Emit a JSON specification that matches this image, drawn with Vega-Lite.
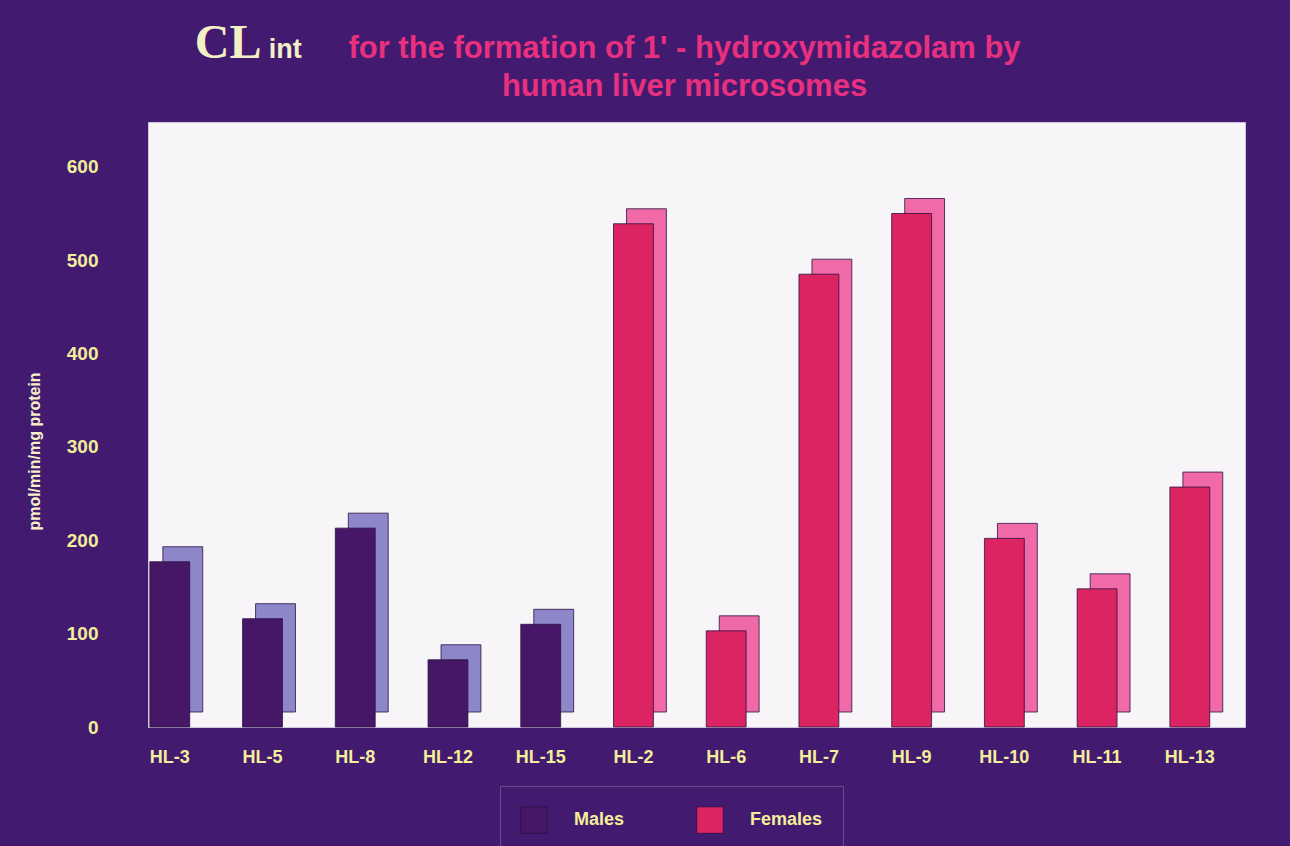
{
  "$schema": "https://vega.github.io/schema/vega-lite/v6.json",
  "width": 1097,
  "height": 605,
  "autosize": {"type": "none"},
  "padding": {"left": 148, "top": 122, "right": 45, "bottom": 119},
  "background": "#421b70",
  "title": {
    "text": ["for the formation of 1' - hydroxymidazolam by", "human liver microsomes"],
    "color": "#e8307f",
    "font": "Liberation Sans",
    "fontWeight": "bold",
    "fontSize": 31,
    "lineHeight": 38,
    "anchor": "middle",
    "dx": -12,
    "offset": -83
  },
  "config": {
    "view": {"fill": "#f7f5f8", "stroke": "#cfc4da", "strokeWidth": 1},
    "legend": {
      "orient": "none",
      "legendX": 352,
      "legendY": 664,
      "direction": "horizontal",
      "symbolType": "square",
      "symbolSize": 700,
      "symbolStrokeWidth": 0.8,
      "symbolStrokeColor": "#2b1242",
      "symbolOpacity": 1,
      "labelColor": "#f3ee9a",
      "labelFont": "Liberation Sans",
      "labelFontWeight": "bold",
      "labelFontSize": 18,
      "labelOffset": 26,
      "columnPadding": 70,
      "padding": 20,
      "strokeColor": "#6b4a8c"
    }
  },
  "layer": [
    {
      "data": {
        "values": [
          {"sample": "HL-3", "sex": "Males", "value": 177},
          {"sample": "HL-5", "sex": "Males", "value": 116},
          {"sample": "HL-8", "sex": "Males", "value": 213},
          {"sample": "HL-12", "sex": "Males", "value": 72},
          {"sample": "HL-15", "sex": "Males", "value": 110},
          {"sample": "HL-2", "sex": "Females", "value": 539},
          {"sample": "HL-6", "sex": "Females", "value": 103},
          {"sample": "HL-7", "sex": "Females", "value": 485},
          {"sample": "HL-9", "sex": "Females", "value": 550},
          {"sample": "HL-10", "sex": "Females", "value": 202},
          {"sample": "HL-11", "sex": "Females", "value": 148},
          {"sample": "HL-13", "sex": "Females", "value": 257}
        ]
      },
      "encoding": {
        "x": {
          "field": "sample",
          "type": "nominal",
          "sort": null,
          "scale": {"paddingInner": 0.57, "paddingOuter": 0.2, "align": 0.05},
          "axis": {
            "title": null,
            "labelAngle": 0,
            "labelColor": "#f3ee9a",
            "labelFont": "Liberation Sans",
            "labelFontWeight": "bold",
            "labelFontSize": 18,
            "labelPadding": 21,
            "ticks": false,
            "domain": false
          }
        },
        "y": {
          "field": "value",
          "type": "quantitative",
          "scale": {"domain": [0, 648], "nice": false},
          "axis": {
            "values": [0, 100, 200, 300, 400, 500, 600],
            "title": "pmol/min/mg protein",
            "titleColor": "#f6f0c8",
            "titleFont": "Liberation Sans",
            "titleFontWeight": "bold",
            "titleFontSize": 16,
            "titleX": -106,
            "titleY": 329,
            "titleAlign": "center",
            "labelColor": "#f3ee9a",
            "labelFont": "Liberation Sans",
            "labelFontWeight": "bold",
            "labelFontSize": 19,
            "labelPadding": 50,
            "ticks": false,
            "domain": false,
            "grid": false
          }
        }
      },
      "layer": [
        {
          "mark": {"type": "bar", "xOffset": 13, "yOffset": -15, "stroke": "#2b1242", "strokeWidth": 0.8},
          "encoding": {
            "fill": {
              "condition": {"test": "datum.sex === 'Males'", "value": "#8d86c9"},
              "value": "#f06aa8"
            }
          }
        },
        {
          "mark": {"type": "bar", "stroke": "#2b1242", "strokeWidth": 0.8},
          "encoding": {
            "color": {
              "field": "sex",
              "type": "nominal",
              "scale": {"domain": ["Males", "Females"], "range": ["#461766", "#dd2463"]},
              "legend": {"title": null}
            }
          }
        }
      ]
    },
    {
      "data": {"values": [{"t": "CL"}]},
      "mark": {
        "type": "text",
        "font": "Liberation Serif",
        "fontWeight": "bold",
        "fontSize": 48,
        "color": "#f4f0c6",
        "align": "left",
        "baseline": "alphabetic",
        "dx": 25,
        "dy": -64
      },
      "encoding": {
        "x": {"datum": "HL-3", "type": "nominal"},
        "y": {"datum": 648, "type": "quantitative"},
        "text": {"field": "t", "type": "nominal"}
      }
    },
    {
      "data": {"values": [{"t": "int"}]},
      "mark": {
        "type": "text",
        "font": "Liberation Sans",
        "fontWeight": "bold",
        "fontSize": 27,
        "color": "#f4f0c6",
        "align": "left",
        "baseline": "alphabetic",
        "dx": 99,
        "dy": -64
      },
      "encoding": {
        "x": {"datum": "HL-3", "type": "nominal"},
        "y": {"datum": 648, "type": "quantitative"},
        "text": {"field": "t", "type": "nominal"}
      }
    }
  ]
}
